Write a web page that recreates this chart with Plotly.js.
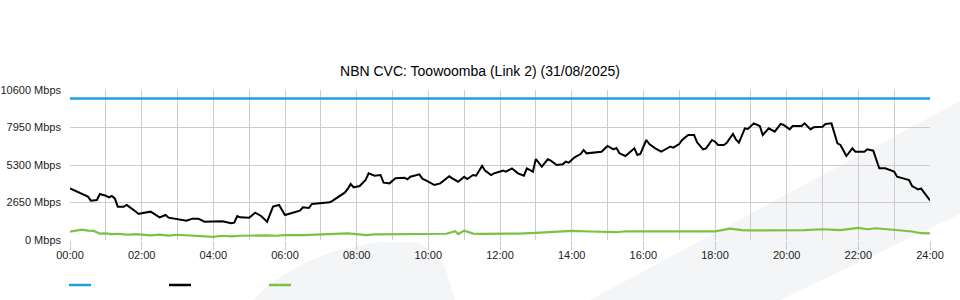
<!DOCTYPE html>
<html>
<head>
<meta charset="utf-8">
<script src="https://cdn.plot.ly/plotly-3.0.1.min.js"></script>
<style>html,body{margin:0;padding:0;background:#fff;}#chart{width:960px;height:300px;}</style>
</head>
<body>
<div id="chart"></div>
<script>
// ---- Data ----
var chartTitle = "NBN CVC: Toowoomba (Link 2) (31/08/2025)";
var xTickLabels = ["00:00","02:00","04:00","06:00","08:00","10:00","12:00","14:00","16:00","18:00","20:00","22:00","24:00"];
var yTickValues = [0, 2650, 5300, 7950, 10600];
var yTickLabels = ["0 Mbps","2650 Mbps","5300 Mbps","7950 Mbps","10600 Mbps"];

var capacityTimes = ["00:00","24:00"];
var capacityMbps = [10000, 10000];

var downloadTimes = ["00:00","00:15","00:20","00:30","00:35","00:45","00:50","01:00","01:05","01:10","01:15","01:20","01:30","01:35","01:45","01:55","02:00","02:15","02:30","02:40","02:45","03:00","03:15","03:25","03:35","03:45","04:00","04:15","04:30","04:35","04:40","04:45","05:00","05:10","05:20","05:30","05:40","05:50","06:00","06:15","06:25","06:30","06:40","06:45","07:00","07:15","07:20","07:30","07:40","07:45","07:50","07:55","08:05","08:15","08:20","08:30","08:40","08:45","08:55","09:05","09:20","09:25","09:30","09:45","09:50","10:00","10:10","10:20","10:35","10:40","10:50","11:00","11:05","11:15","11:20","11:30","11:35","11:45","11:50","12:05","12:10","12:20","12:30","12:40","12:45","12:55","13:00","13:10","13:20","13:25","13:35","13:45","13:50","13:55","14:05","14:15","14:20","14:25","14:35","14:50","15:00","15:10","15:15","15:20","15:30","15:45","15:50","15:55","16:05","16:10","16:20","16:30","16:35","16:45","16:50","17:00","17:05","17:15","17:25","17:30","17:40","17:45","17:55","18:00","18:05","18:15","18:20","18:30","18:35","18:40","18:50","18:55","19:05","19:15","19:20","19:30","19:40","19:50","19:55","20:05","20:10","20:25","20:30","20:40","20:45","21:00","21:05","21:15","21:25","21:30","21:40","21:50","21:55","22:10","22:15","22:25","22:35","22:45","23:00","23:05","23:15","23:25","23:30","23:40","23:45","24:00"];
var downloadMbps = [3651,3368,3250,3062,2779,2827,3251,3133,3015,3109,2944,2356,2356,2473,2167,1837,1884,2002,1602,1767,1578,1460,1366,1507,1507,1295,1295,1319,1178,1225,1696,1602,1578,1931,1696,1295,2356,2473,1767,1931,2073,2309,2261,2544,2610,2661,2779,3062,3345,3604,3957,3722,3816,4240,4711,4546,4593,4051,4004,4357,4405,4287,4475,4640,4334,4122,3887,4004,4499,4357,4122,4475,4311,4593,4546,5229,4899,4593,4711,4899,4829,5064,4711,4546,5064,4829,5724,5182,5700,5606,5300,5347,5535,5465,5841,6077,6360,6124,6171,6242,6643,6407,6501,6124,5936,6478,6007,6077,7067,6784,6478,6242,6360,6596,6525,6784,7067,7420,7420,6901,6407,6478,7067,6949,6713,6713,6878,7491,7114,6878,7891,7844,8244,8056,7420,7891,7656,8197,8127,7820,8056,8056,8244,7820,7962,8009,8197,8244,6831,6713,5936,6478,6242,6242,6407,6313,5064,5064,4829,4475,4357,4240,3816,3580,3651,2800];

var uploadTimes = ["00:00","00:10","00:20","00:30","00:40","00:50","01:00","01:10","01:20","01:30","01:40","01:50","02:00","02:15","02:30","02:45","03:00","03:15","03:30","03:45","04:00","04:15","04:30","04:45","05:00","05:15","05:30","05:45","06:00","06:30","07:00","07:15","07:30","07:45","08:00","08:15","08:30","09:00","09:30","10:00","10:30","10:45","10:50","11:00","11:15","11:30","12:00","12:30","13:00","13:30","14:00","14:30","15:00","15:15","15:30","16:00","16:30","17:00","17:30","18:00","18:25","18:45","19:00","19:30","20:00","20:30","21:00","21:30","22:00","22:15","22:30","22:45","23:00","23:30","23:45","24:00"];
var uploadMbps = [590,650,730,660,640,450,470,420,440,400,380,420,380,330,380,310,370,330,300,290,220,300,260,300,320,360,330,300,350,350,400,390,400,470,420,350,400,400,400,420,440,620,420,660,450,430,420,450,500,560,640,600,600,550,620,620,600,600,580,610,800,700,680,680,680,700,760,700,850,760,830,780,730,600,480,470];

// ---- helpers ----
function toHours(t){ var p = t.split(":"); return Number(p[0]) + Number(p[1]) / 60; }
var xTickValues = xTickLabels.map(toHours);

var capColor = "#1ba1e2", dlColor = "#000000", ulColor = "#7cc242";

var traces = [
  {x: capacityTimes.map(toHours), y: capacityMbps, mode: "lines", name: "Capacity", line: {color: capColor, width: 2.5}, showlegend: false, hoverinfo: "skip"},
  {x: downloadTimes.map(toHours), y: downloadMbps, mode: "lines", name: "Download", line: {color: dlColor, width: 2}, showlegend: false},
  {x: uploadTimes.map(toHours), y: uploadMbps, mode: "lines", name: "Upload", line: {color: ulColor, width: 2.2}, showlegend: false}
];

// layout geometry: plot area spans 70..930 px horizontally, 90..240 px vertically
function px(x){ return (x - 70) / 860; }
function py(y){ return (240 - y) / 150; }
function pt(x, y){ return px(x).toFixed(4) + "," + py(y).toFixed(4); }

var shapes = [
  // decorative background swooshes
  {type: "path", xref: "paper", yref: "paper", layer: "below", line: {width: 0}, fillcolor: "#f4f5f7",
   path: "M" + pt(590,300) + " L" + pt(962,100) + " L" + pt(962,213) + " L" + pt(780,300) + " Z"},
  {type: "path", xref: "paper", yref: "paper", layer: "below", line: {width: 0}, fillcolor: "#f4f5f7",
   path: "M" + pt(253,300) + " Q" + pt(300,252) + " " + pt(380,242) + " L" + pt(415,242) + " Q" + pt(440,252) + " " + pt(447,273) + " L" + pt(455,300) + " Z"},
  // legend keys
  {type: "line", xref: "paper", yref: "paper", x0: px(69), x1: px(91), y0: py(285), y1: py(285), line: {color: capColor, width: 2.5}},
  {type: "line", xref: "paper", yref: "paper", x0: px(169), x1: px(191), y0: py(285), y1: py(285), line: {color: dlColor, width: 2.5}},
  {type: "line", xref: "paper", yref: "paper", x0: px(269), x1: px(291), y0: py(285), y1: py(285), line: {color: ulColor, width: 2.5}}
];

var layout = {
  width: 960, height: 300,
  margin: {l: 70, r: 30, t: 90, b: 60, pad: 0},
  paper_bgcolor: "rgba(0,0,0,0)", plot_bgcolor: "rgba(0,0,0,0)",
  font: {family: "Liberation Sans, Arial, sans-serif", size: 11, color: "#222"},
  title: {text: chartTitle, font: {size: 14, color: "#000"}, x: 0.5, xanchor: "center", y: 1 - 71/300, yanchor: "middle"},
  showlegend: false,
  xaxis: {
    range: [0, 24], tickmode: "array", tickvals: xTickValues, ticktext: xTickLabels,
    showgrid: true, gridcolor: "#cccccc", gridwidth: 1, zeroline: false, showline: false,
    ticks: "outside", ticklen: 9, tickcolor: "#cccccc", tickwidth: 1, ticklabelstandoff: -4,
    minor: {tickmode: "linear", tick0: 0, dtick: 1, showgrid: true, gridcolor: "#cccccc", gridwidth: 1, ticks: ""},
    fixedrange: true
  },
  yaxis: {
    range: [0, 10600], tickmode: "array", tickvals: yTickValues, ticktext: yTickLabels,
    showgrid: true, gridcolor: "#cccccc", gridwidth: 1, zeroline: false, showline: false,
    ticks: "", ticklabelstandoff: 8, fixedrange: true
  },
  shapes: shapes
};

Plotly.newPlot("chart", traces, layout, {displayModeBar: false, staticPlot: true});
</script>
</body>
</html>
